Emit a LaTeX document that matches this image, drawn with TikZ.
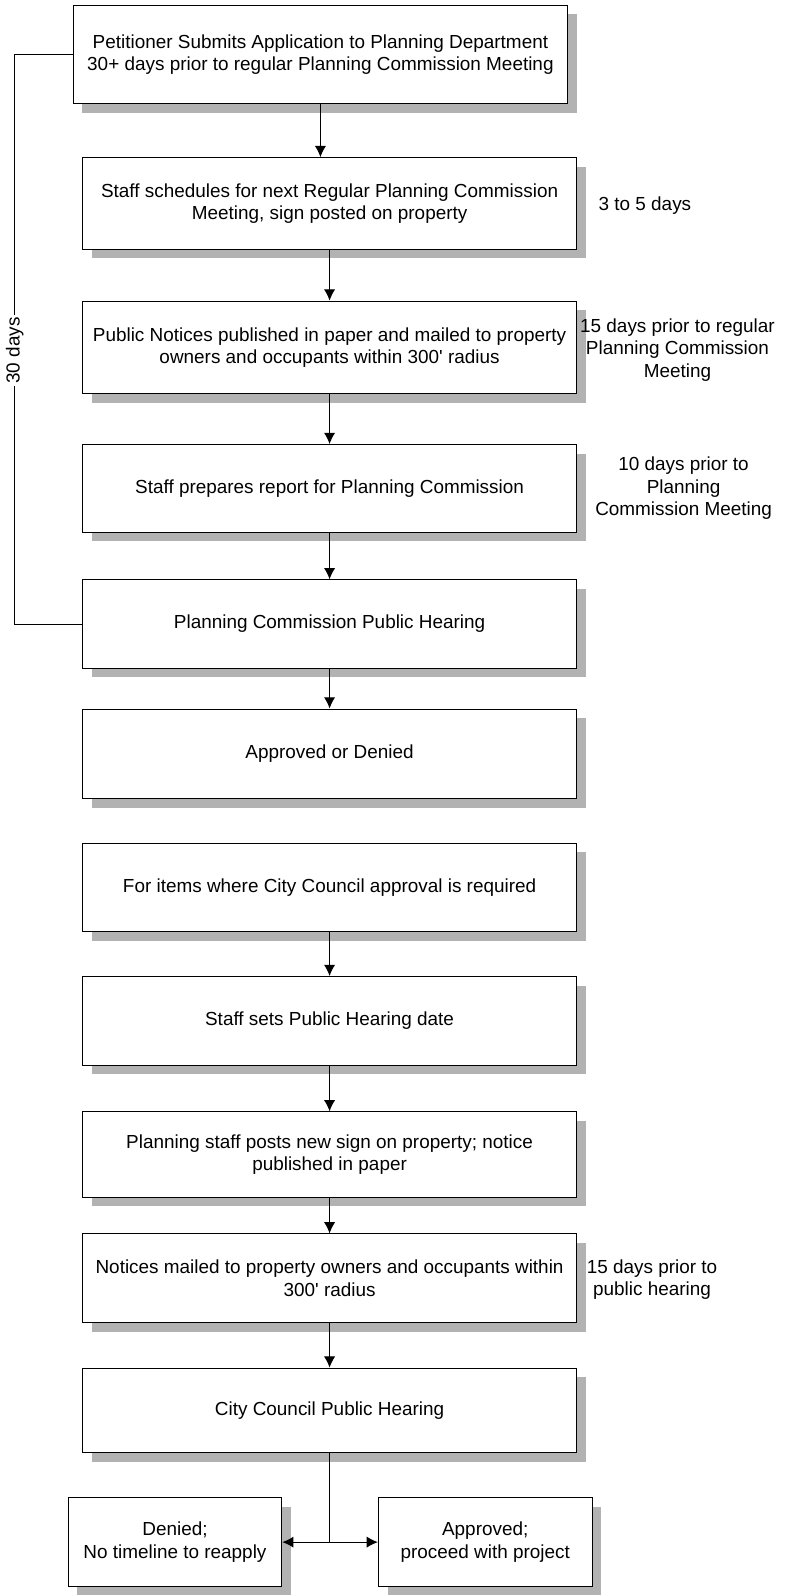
\documentclass[tikz,border=0pt]{standalone}
\usepackage{fontspec}
\setmainfont{Liberation Sans}
\usetikzlibrary{shadows,arrows.meta}
\tikzset{
  stepbox/.style={draw, line width=0.5pt, fill=white, minimum width=243pt,
    minimum height=43.5pt, align=center, inner sep=2pt,
    font=\fontsize{9.3}{11}\selectfont,
    drop shadow={shadow xshift=4.5pt, shadow yshift=-4.5pt, fill=black!30, opacity=1}},
  endbox/.style={stepbox, minimum width=105pt, minimum height=44pt},
  note/.style={align=center, font=\fontsize{9.3}{11}\selectfont},
}
\begin{document}
\begin{tikzpicture}[>={Latex[length=5.5pt,width=5.5pt]}, x=0.5pt, y=-0.5pt, line width=0.5pt]
	\useasboundingbox (0,0) rectangle (778,1568);
	% planning commission part
	\node[stepbox, minimum height=48.5pt] (s1) at (315,53.5) {Petitioner Submits Application to Planning Department\\30+ days prior to regular Planning Commission Meeting};
	\node[stepbox, minimum height=45pt] (s2) at (324,200) {Staff schedules for next Regular Planning Commission\\Meeting, sign posted on property};
	\node[stepbox, minimum height=45.5pt] (s3) at (324,341.5) {Public Notices published in paper and mailed to property\\owners and occupants within 300\textquotesingle{} radius};
	\node[stepbox, minimum height=43pt] (s4) at (324,480) {Staff prepares report for Planning Commission};
	\node[stepbox] (s5) at (324,613.5) {Planning Commission Public Hearing};
	\node[stepbox, minimum height=44pt] (s6) at (324,741) {Approved or Denied};
	% city council part
	\node[stepbox, minimum height=43.5pt] (s7) at (324,872.5) {For items where City Council approval is required};
	\node[stepbox] (s8) at (324,1003.5) {Staff sets Public Hearing date};
	\node[stepbox, minimum height=42pt] (s9) at (324,1135) {Planning staff posts new sign on property; notice\\published in paper};
	\node[stepbox] (s10) at (324,1256.5) {Notices mailed to property owners and occupants within\\300\textquotesingle{} radius};
	\node[stepbox, minimum height=41.5pt] (s11) at (324,1386.5) {City Council Public Hearing};
	\node[endbox] (den) at (172,1516) {Denied;\\No timeline to reapply};
	\node[endbox] (app) at (477,1516) {Approved;\\proceed with project};
	% time notes
	\node[note] (t2) at (634,202) {3 to 5 days};
	\node[note] (t3) at (666,344) {15 days prior to regular\\Planning Commission\\Meeting};
	\node[note] (t4) at (672,480) {10 days prior to\\Planning\\Commission Meeting};
	\node[note] (t10) at (641,1258) {15 days prior to\\public hearing};
	% arrows
	\draw[->] (s1.south) -- (s1.south |- s2.north);
	\foreach \a/\b in {s2/s3, s3/s4, s4/s5, s5/s6, s7/s8, s8/s9, s9/s10, s10/s11}
		\draw[->] (\a.south) -- (\b.north);
	\draw (s11.south) -- (s11.south |- den.east);
	\draw[<->] (den.east) -- (app.west);
	\draw (s1.west) -- ++(-57,0) |- (s5.west)
		node[pos=0.26, rotate=90, fill=white, inner sep=1pt, font=\fontsize{9.3}{11}\selectfont] {30 days};
\end{tikzpicture}
\end{document}
